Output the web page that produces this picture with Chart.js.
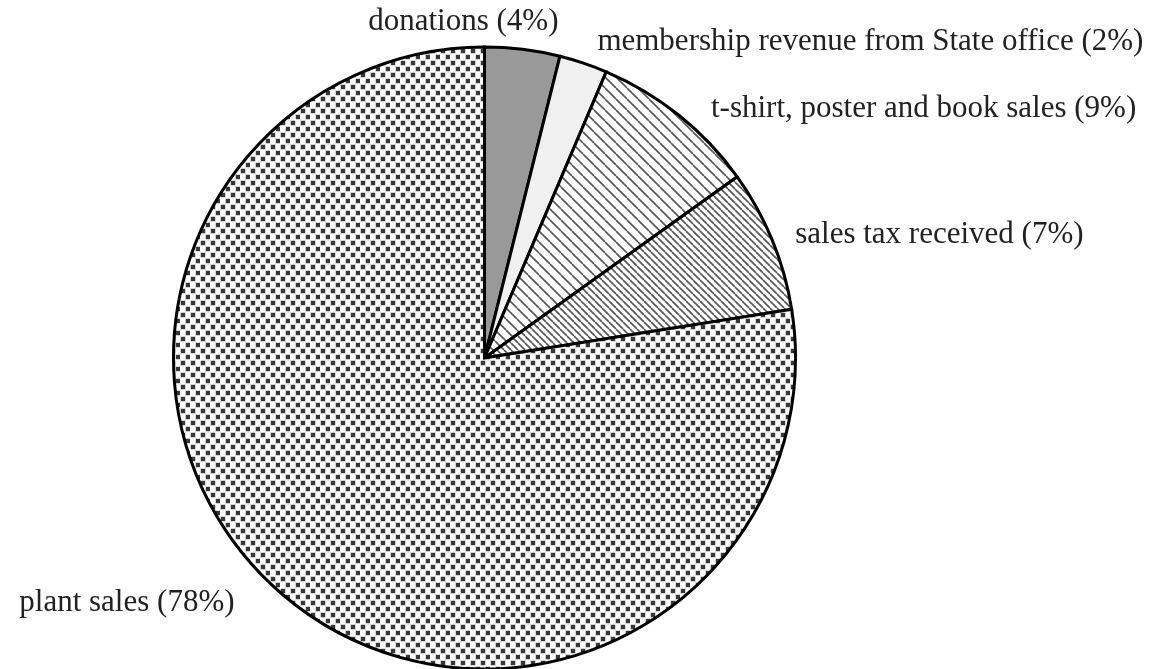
<!DOCTYPE html>
<html>
<head>
<meta charset="utf-8">
<script src="https://cdn.jsdelivr.net/npm/chart.js@4/dist/chart.umd.min.js"></script>
<style>
  html, body { margin: 0; padding: 0; background: #ffffff; }
  #wrap { width: 1160px; height: 669px; position: relative; }
</style>
</head>
<body>
<div id="wrap"><canvas id="c" width="1160" height="669"></canvas></div>
<script>
// ---- data ----
const categories = [
  "donations",
  "membership revenue from State office",
  "t-shirt, poster and book sales",
  "sales tax received",
  "plant sales"
];
const values = [3.9, 2.5, 8.7, 7.4, 77.5];
const percentLabels = ["4%", "2%", "9%", "7%", "78%"];

// ---- label placement (offsets from slice mid-point on rim) ----
const labelLayout = [
  { dx: 36,  dy: -27, align: "right" },
  { dx: 14,  dy: -21, align: "left" },
  { dx: 32,  dy: -6,  align: "left" },
  { dx: 23,  dy: -5,  align: "left" },
  { dx: -48, dy: 8,   align: "right" }
];

function makeTile(w, h, draw) {
  const c = document.createElement("canvas");
  c.width = w; c.height = h;
  const g = c.getContext("2d");
  g.fillStyle = "#ffffff";
  g.fillRect(0, 0, w, h);
  draw(g, w, h);
  return g.createPattern(c, "repeat");
}
function diagLines(size, color, lw) {
  return makeTile(size, size, (g, s) => {
    g.strokeStyle = color;
    g.lineWidth = lw;
    for (let k = -1; k <= 1; k++) {
      g.beginPath();
      g.moveTo(k * s, 0);
      g.lineTo(k * s + s, s);
      g.stroke();
    }
  });
}
function dots() {
  return makeTile(10, 12, (g) => {
    const sq = (x, y) => {
      g.fillStyle = "#a8a8a8";
      g.fillRect(x - 0.5, y - 0.5, 5, 5);
      g.fillStyle = "#383838";
      g.fillRect(x, y, 4, 4);
    };
    sq(1, 1);
    sq(6, 7);
  });
}

const fills = [
  "#999999",
  "#f0f0f0",
  diagLines(11, "#555555", 1.6),
  diagLines(7, "#555555", 1.6),
  dots()
];

const labelPlugin = {
  id: "outerLabels",
  afterDatasetsDraw(chart) {
    const ctx = chart.ctx;
    const arcs = chart.getDatasetMeta(0).data;
    ctx.save();
    ctx.font = '31px "Liberation Serif", "DejaVu Serif", serif';
    ctx.fillStyle = "#222222";
    ctx.textBaseline = "middle";
    arcs.forEach((arc, i) => {
      const p = arc.getProps(["x", "y", "startAngle", "endAngle", "outerRadius"], true);
      const mid = (p.startAngle + p.endAngle) / 2;
      const ax = p.x + Math.cos(mid) * p.outerRadius;
      const ay = p.y + Math.sin(mid) * p.outerRadius;
      const L = labelLayout[i];
      ctx.textAlign = L.align;
      ctx.fillText(categories[i] + " (" + percentLabels[i] + ")", ax + L.dx, ay + L.dy);
    });
    ctx.restore();
  }
};

new Chart(document.getElementById("c"), {
  type: "pie",
  data: {
    labels: categories,
    datasets: [{
      data: values,
      backgroundColor: fills,
      borderColor: "#000000",
      borderWidth: 3,
      borderJoinStyle: "miter"
    }]
  },
  options: {
    responsive: false,
    animation: false,
    radius: 311,
    layout: { padding: { left: 172, right: 363, top: 47, bottom: 0 } },
    plugins: {
      legend: { display: false },
      tooltip: { enabled: false }
    }
  },
  plugins: [labelPlugin]
});
</script>
</body>
</html>
